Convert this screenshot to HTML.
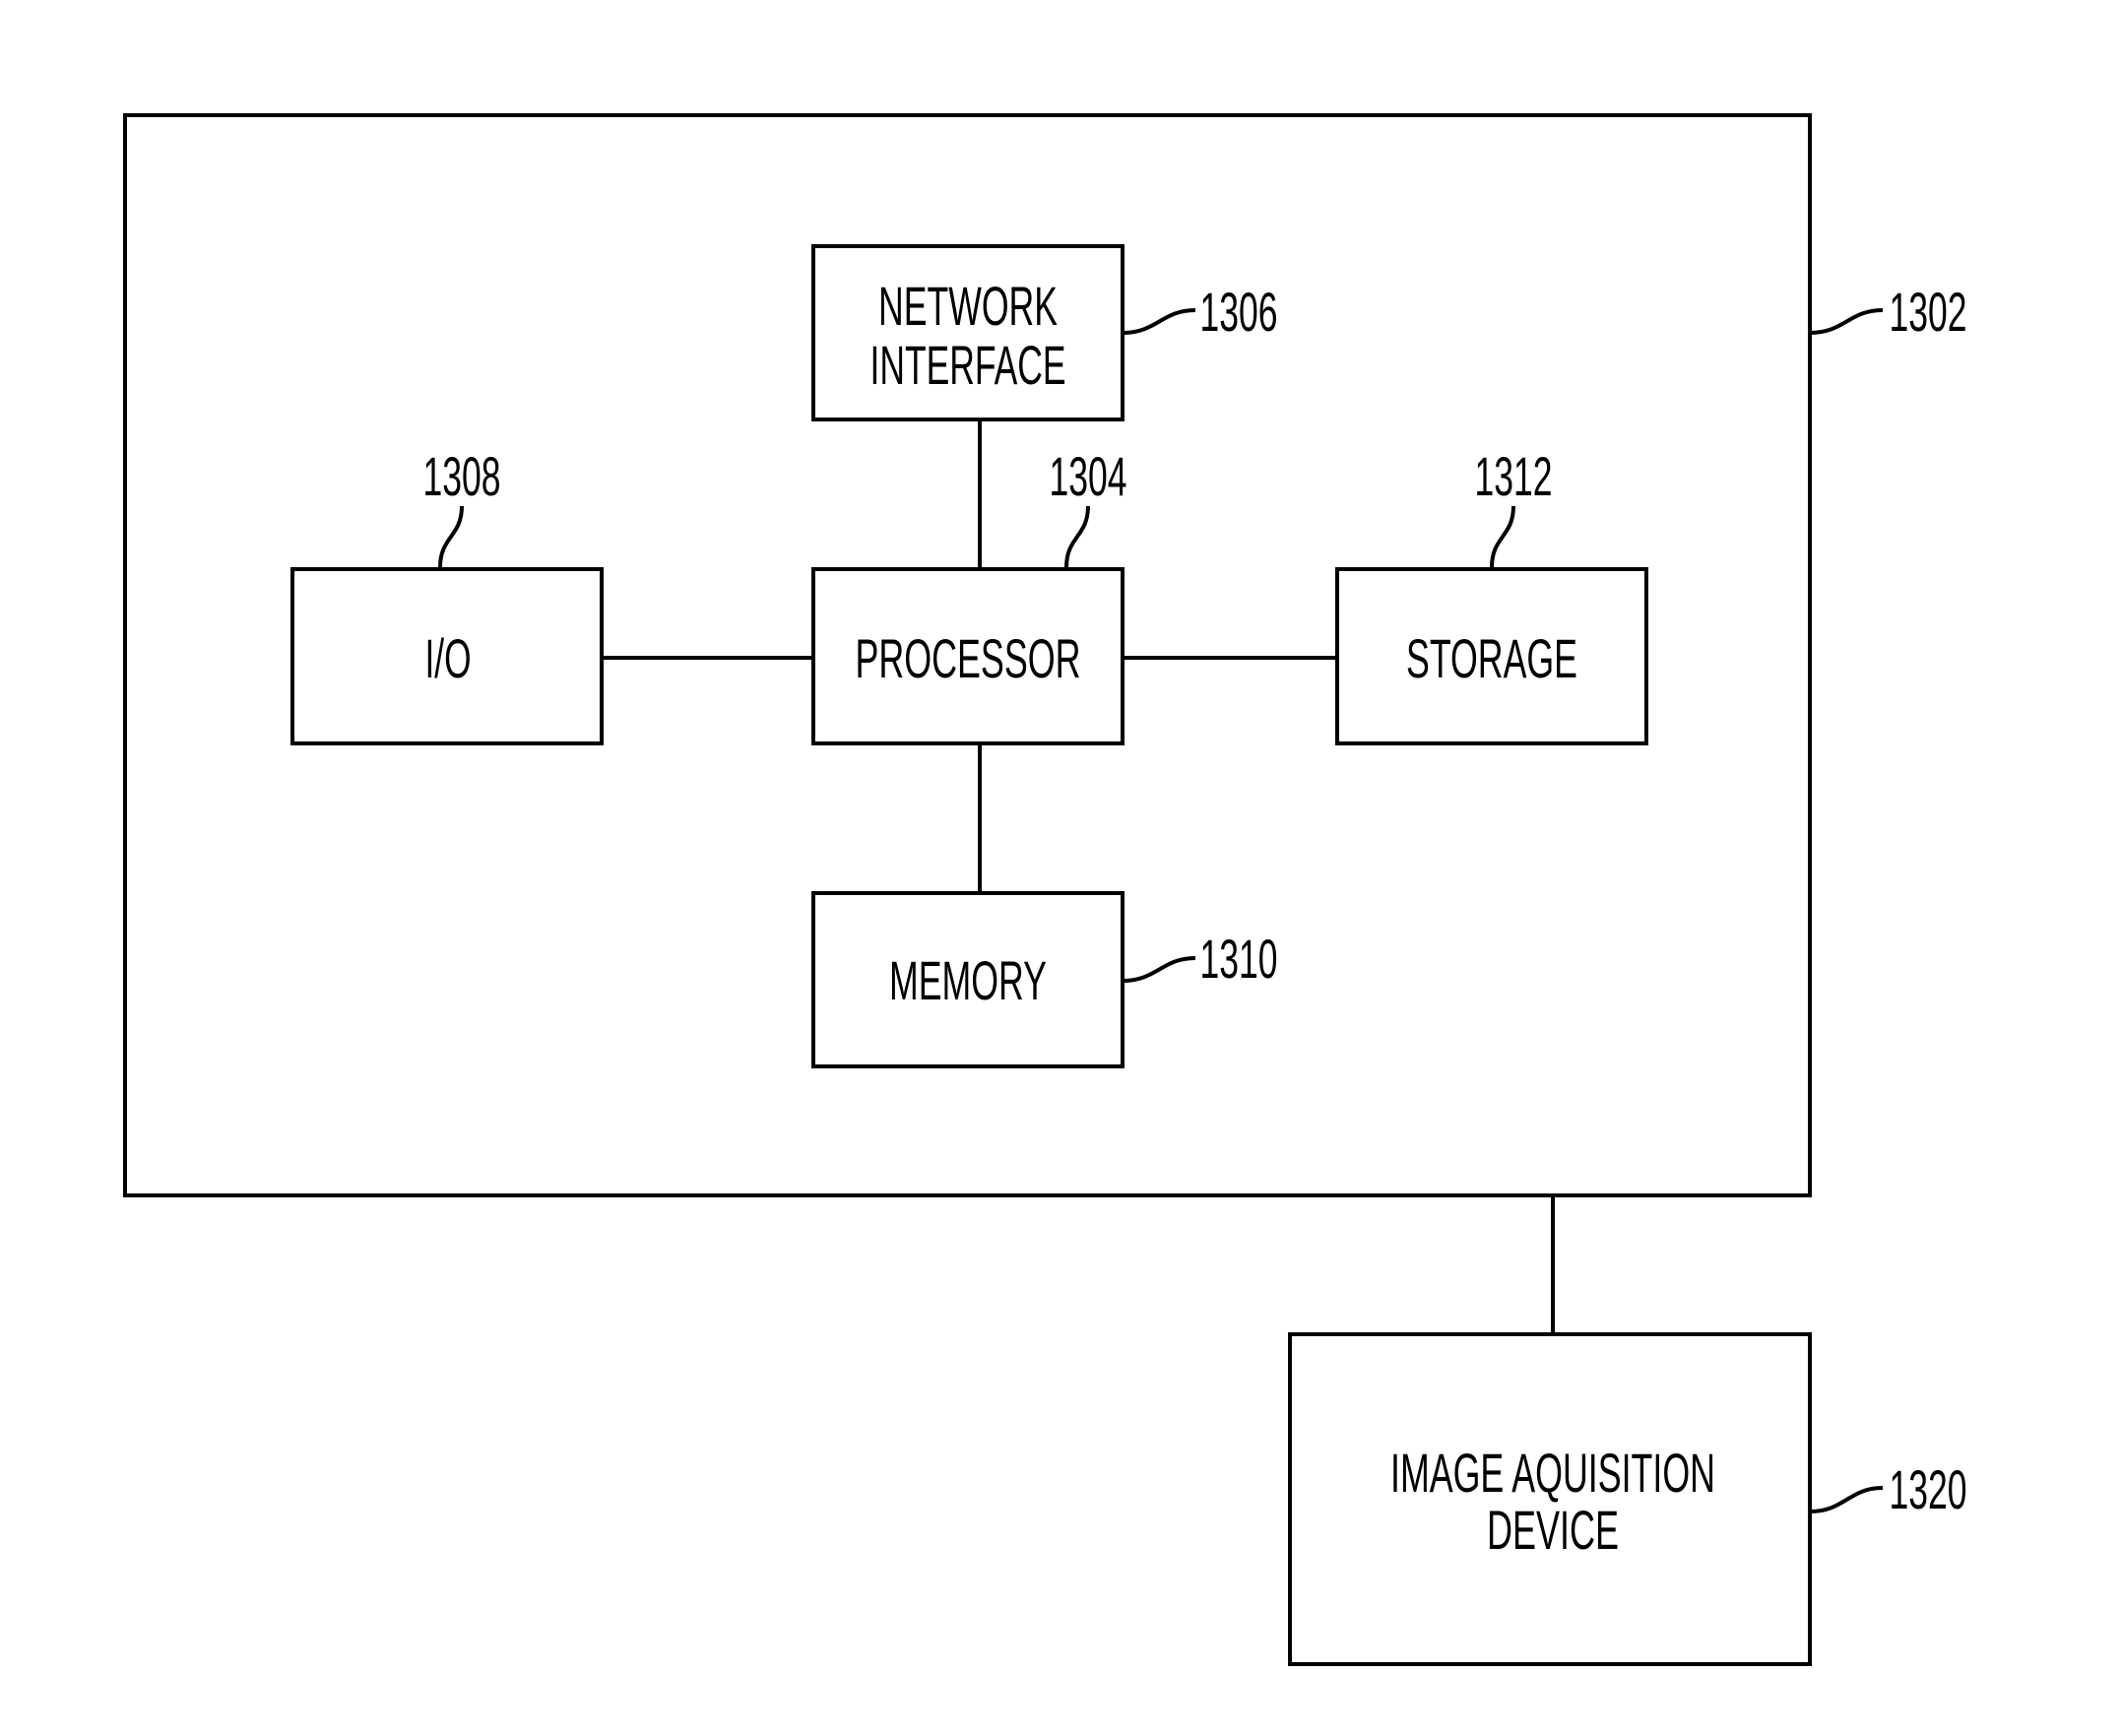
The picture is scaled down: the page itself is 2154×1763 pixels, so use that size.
<!DOCTYPE html>
<html><head><meta charset="utf-8"><style>html,body{margin:0;padding:0;background:#fff}svg{display:block}</style></head>
<body>
<svg width="2154" height="1763" viewBox="0 0 2154 1763" xmlns="http://www.w3.org/2000/svg">
<g fill="none" stroke="#000" stroke-width="4">
<rect x="127" y="117" width="1711" height="1097"/>
<rect x="826" y="250" width="314" height="176"/>
<rect x="297" y="578" width="314" height="177"/>
<rect x="826" y="578" width="314" height="177"/>
<rect x="1358" y="578" width="314" height="177"/>
<rect x="826" y="907" width="314" height="176"/>
<rect x="1310" y="1355" width="528" height="335"/>
<line x1="995" y1="426" x2="995" y2="578"/>
<line x1="995" y1="755" x2="995" y2="907"/>
<line x1="611" y1="668" x2="826" y2="668"/>
<line x1="1140" y1="668" x2="1358" y2="668"/>
<line x1="1577" y1="1214" x2="1577" y2="1355"/>
<path d="M1140,338 C1175,338 1180,315 1214,315"/>
<path d="M1838,338 C1873,338 1878,315 1912,315"/>
<path d="M1140,996 C1175,996 1180,973 1214,973"/>
<path d="M1838,1535 C1873,1535 1878,1511 1912,1511"/>
<path d="M447,576 C447,545 469,545 469,514"/>
<path d="M1083,576 C1083,545 1105,545 1105,514"/>
<path d="M1515,576 C1515,545 1537,545 1537,514"/>
</g>
<g font-family="Liberation Sans, sans-serif" font-size="56" fill="#000" text-anchor="middle" lengthAdjust="spacingAndGlyphs">
<text x="983" y="330" textLength="182" lengthAdjust="spacingAndGlyphs">NETWORK</text>
<text x="983" y="390" textLength="199" lengthAdjust="spacingAndGlyphs">INTERFACE</text>
<text x="455" y="688" textLength="47" lengthAdjust="spacingAndGlyphs">I/O</text>
<text x="983" y="688" textLength="229" lengthAdjust="spacingAndGlyphs">PROCESSOR</text>
<text x="1515" y="688" textLength="174" lengthAdjust="spacingAndGlyphs">STORAGE</text>
<text x="983" y="1015" textLength="160" lengthAdjust="spacingAndGlyphs">MEMORY</text>
<text x="1577" y="1515" textLength="330" lengthAdjust="spacingAndGlyphs">IMAGE AQUISITION</text>
<text x="1577" y="1573" textLength="134" lengthAdjust="spacingAndGlyphs">DEVICE</text>
<text x="1258" y="336" textLength="79" lengthAdjust="spacingAndGlyphs">1306</text>
<text x="1958" y="336" textLength="79" lengthAdjust="spacingAndGlyphs">1302</text>
<text x="469" y="503" textLength="79" lengthAdjust="spacingAndGlyphs">1308</text>
<text x="1105" y="503" textLength="79" lengthAdjust="spacingAndGlyphs">1304</text>
<text x="1537" y="503" textLength="79" lengthAdjust="spacingAndGlyphs">1312</text>
<text x="1258" y="993" textLength="79" lengthAdjust="spacingAndGlyphs">1310</text>
<text x="1958" y="1532" textLength="79" lengthAdjust="spacingAndGlyphs">1320</text>
</g>
</svg>
</body></html>
